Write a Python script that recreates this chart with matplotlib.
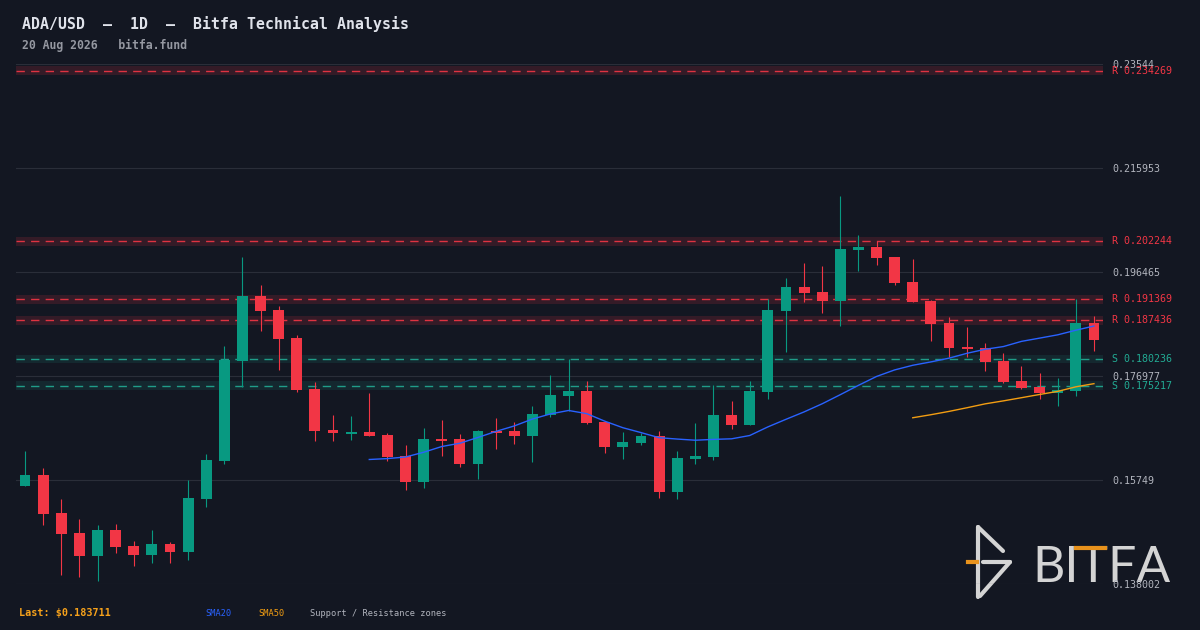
import numpy as np
import pandas as pd
import matplotlib
matplotlib.use("Agg")
import matplotlib.pyplot as plt
from matplotlib.lines import Line2D

# daily candles (60 days)
opens = [0.15642, 0.15848, 0.15136, 0.14762, 0.14336, 0.14818, 0.14518, 0.14355, 0.14555, 0.14411,
         0.15404, 0.16116, 0.17985, 0.19203, 0.18940, 0.18416, 0.17460, 0.16692, 0.16617, 0.16654,
         0.16598, 0.16204, 0.15717, 0.16529, 0.16523, 0.16055, 0.16673, 0.16673, 0.16579, 0.16973,
         0.17329, 0.17422, 0.16842, 0.16379, 0.16454, 0.16579, 0.15535, 0.16154, 0.16191, 0.16973,
         0.16791, 0.17409, 0.18922, 0.19371, 0.19278, 0.19109, 0.20065, 0.20121, 0.19934, 0.19465,
         0.19109, 0.18697, 0.18247, 0.18228, 0.17985, 0.17610, 0.17497, 0.17385, 0.17422, 0.18697]
highs = [0.16298, 0.15980, 0.15399, 0.15024, 0.14911, 0.14930, 0.14612, 0.14818, 0.14593, 0.15755,
         0.16242, 0.18266, 0.19934, 0.19409, 0.19015, 0.18472, 0.17591, 0.16973, 0.16954, 0.17385,
         0.16635, 0.16411, 0.16729, 0.16879, 0.16617, 0.16692, 0.16917, 0.16842, 0.17141, 0.17722,
         0.18022, 0.17610, 0.16860, 0.16654, 0.16641, 0.16673, 0.16298, 0.16823, 0.17535, 0.17235,
         0.17610, 0.19146, 0.19540, 0.19821, 0.19765, 0.21077, 0.20346, 0.20228, 0.19934, 0.19896,
         0.19128, 0.18809, 0.18622, 0.18322, 0.18134, 0.17891, 0.17760, 0.17666, 0.19146, 0.18828]
lows = [0.15642, 0.14917, 0.13980, 0.13943, 0.13868, 0.14392, 0.14149, 0.14205, 0.14205, 0.14261,
        0.15254, 0.16060, 0.17497, 0.18553, 0.17822, 0.17409, 0.16491, 0.16491, 0.16510, 0.16579,
        0.16116, 0.15567, 0.15605, 0.16204, 0.15998, 0.15773, 0.16336, 0.16429, 0.16092, 0.16935,
        0.17048, 0.16804, 0.16261, 0.16154, 0.16411, 0.15423, 0.15404, 0.16060, 0.16135, 0.16716,
        0.16791, 0.17278, 0.18159, 0.19090, 0.18890, 0.18646, 0.19671, 0.19784, 0.19409, 0.19090,
        0.18359, 0.18060, 0.18060, 0.17797, 0.17572, 0.17460, 0.17273, 0.17141, 0.17329, 0.18172]
closes = [0.15848, 0.15123, 0.14748, 0.14336, 0.14818, 0.14505, 0.14355, 0.14555, 0.14411, 0.15417,
          0.16130, 0.18003, 0.19203, 0.18922, 0.18403, 0.17447, 0.16679, 0.16641, 0.16654, 0.16579,
          0.16186, 0.15717, 0.16523, 0.16486, 0.16055, 0.16673, 0.16635, 0.16579, 0.16992, 0.17348,
          0.17422, 0.16823, 0.16373, 0.16467, 0.16579, 0.15535, 0.16167, 0.16204, 0.16973, 0.16791,
          0.17422, 0.18940, 0.19371, 0.19259, 0.19109, 0.20083, 0.20121, 0.19915, 0.19446, 0.19090,
          0.18678, 0.18228, 0.18210, 0.17966, 0.17591, 0.17479, 0.17385, 0.17441, 0.18697, 0.183711]

# support / resistance levels
levels = [0.234269, 0.202244, 0.191369, 0.187436, 0.180236, 0.175217]
level_kinds = ["R", "R", "R", "R", "S", "S"]

y_lo, y_hi = 0.1380019, 0.2354404
last_price = 0.183711

title = "ADA/USD  —  1D  —  Bitfa Technical Analysis"
subtitle = "20 Aug 2026   bitfa.fund"

BG = "#131722"
UP = "#089981"
DOWN = "#f23645"
S_COL = "#22ab94"
GRID = "#2a2e39"
MONO = "DejaVu Sans Mono"

fig = plt.figure(figsize=(12, 6.3), dpi=100, facecolor=BG)
ax = fig.add_axes([16 / 1200, 45.7 / 630, 1087 / 1200, 520 / 630])
ax.patch.set_visible(False)   # фон рисует фигура, чтобы логотип был виден под осями

o = np.array(opens)
c = np.array(closes)
x = np.arange(len(c))
cols = [UP if cc >= oo else DOWN for oo, cc in zip(o, c)]

# zones + dashed lines
for lvl, kind in zip(levels, level_kinds):
    col = DOWN if kind == "R" else S_COL
    ax.axhspan(lvl - 0.0008, lvl + 0.0008, color=col, alpha=0.15 if kind == "R" else 0.12, lw=0, zorder=1)
    ax.axhline(lvl, color=col, lw=1.0, ls=(0, (6, 4.5)), alpha=0.9, zorder=2)
    ax.annotate("%s %.6f" % (kind, lvl), xy=(1, lvl), xycoords=("axes fraction", "data"),
                xytext=(6.5, 0), textcoords="offset points", ha="left", va="center",
                color=col, fontsize=7.2, family=MONO, annotation_clip=False)

# candles
ax.vlines(x, lows, highs, colors=cols, lw=0.8, zorder=3)
body_h = np.maximum(np.abs(c - o), 0.0003)
ax.bar(x, body_h, 0.6, bottom=np.minimum(o, c), color=cols, lw=0, zorder=4)

# moving averages
sma20 = pd.Series(closes).rolling(20).mean()
sma50 = pd.Series(closes).rolling(50).mean()
ax.plot(x, sma20, color="#2962ff", lw=1.0, zorder=5)
ax.plot(x, sma50, color="#f29d12", lw=1.0, zorder=5)

ax.set_xlim(-0.5, len(c) - 0.5)
ax.set_ylim(y_lo, y_hi)
ticks = np.linspace(y_lo, y_hi, 6)
ax.set_yticks(ticks)
ax.set_yticklabels([("%.6f" % t).rstrip("0") for t in ticks], family=MONO)
ax.yaxis.tick_right()
ax.tick_params(axis="y", length=0, pad=6.5, labelsize=7.2, labelcolor="#b2b5be")
ax.set_xticks([])
ax.grid(axis="y", color=GRID, lw=0.8)
ax.set_axisbelow(True)
for s in ax.spines.values():
    s.set_visible(False)

# header
fig.text(22 / 1200, 1 - 24 / 630, title, color="#e0e3eb", fontsize=10.7, family=MONO,
         weight="bold", va="center", ha="left")
fig.text(22 / 1200, 1 - 45 / 630, subtitle, color="#9598a1", fontsize=8.3, family=MONO,
         weight="bold", va="center", ha="left")

# footer
fig.text(19 / 1200, 1 - 613 / 630, "Last: $%.6f" % last_price, color="#f7a21b", fontsize=7.3,
         family=MONO, weight="bold", va="center", ha="left")
fig.text(205 / 1200, 1 - 614 / 630, "SMA20", color="#2962ff", fontsize=6.2, family=MONO, va="center")
fig.text(258 / 1200, 1 - 614 / 630, "SMA50", color="#f29d12", fontsize=6.2, family=MONO, va="center")
fig.text(310 / 1200, 1 - 614 / 630, "Support / Resistance zones", color="#b2b5be", fontsize=6.2,
         family=MONO, va="center")

# bitfa watermark
def px(xp, yp):
    return xp / 1200, 1 - yp / 630

logo = "#d4d4d4"
for (x0, y0), (x1, y1) in [((978, 527), (978, 597)), ((978, 527), (1003, 551)),
                           ((983, 562), (1010, 562)), ((1010, 562), (980, 596))]:
    a, b = px(x0, y0)
    cc_, d = px(x1, y1)
    fig.add_artist(Line2D([a, cc_], [b, d], color=logo, lw=3, solid_capstyle="round", zorder=0))
a, b = px(968, 562)
cc_, d = px(977, 562)
fig.add_artist(Line2D([a, cc_], [b, d], color="#e8921c", lw=3, zorder=0))
fig.text(1032 / 1200, 1 - 582 / 630, "BITFA", color=logo, fontsize=36, family="Lato",
         va="baseline", ha="left", zorder=-1)
a, b = px(1076, 548)
cc_, d = px(1105, 548)
fig.add_artist(Line2D([a, cc_], [b, d], color="#e8921c", lw=3, zorder=0))

fig.savefig("out.png", dpi=100, facecolor=BG)
